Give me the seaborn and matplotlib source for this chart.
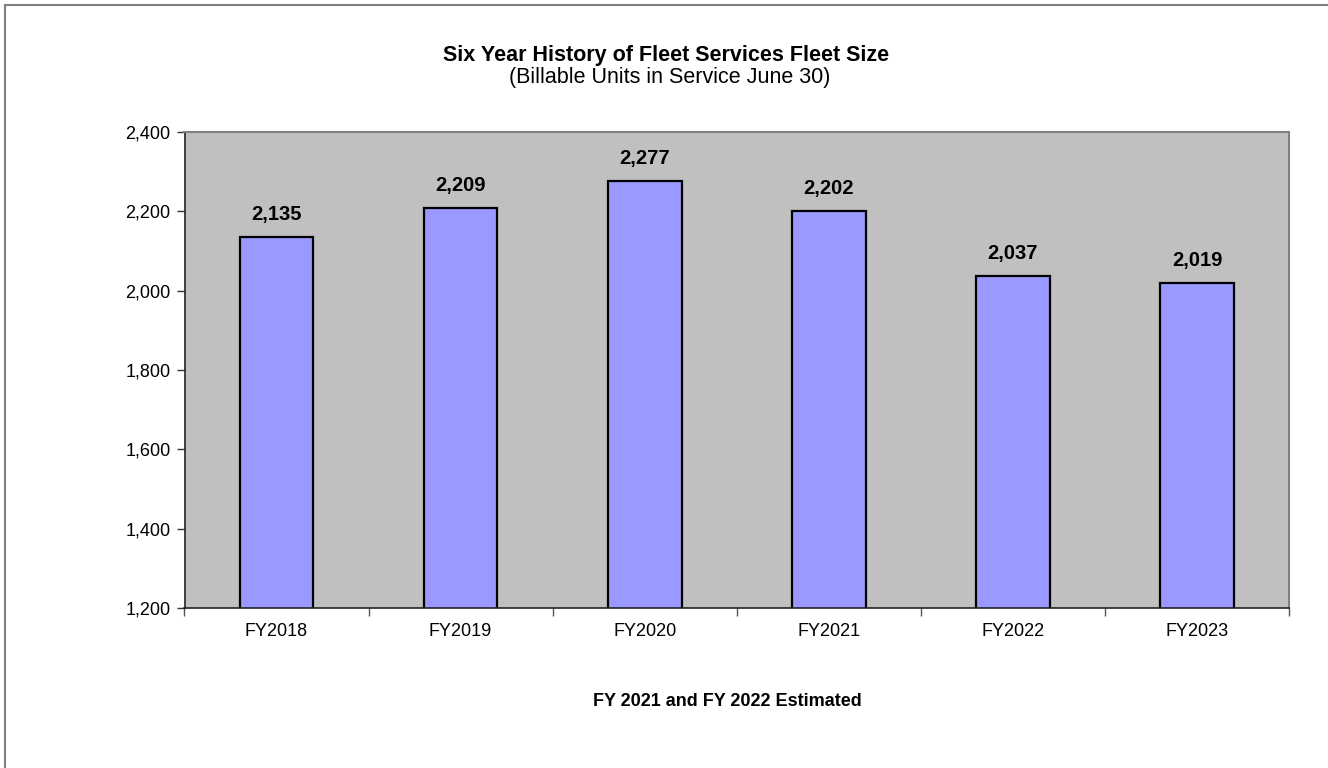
import matplotlib
matplotlib.use("Agg")
import matplotlib.pyplot as plt
from matplotlib.ticker import FuncFormatter, FixedLocator
from matplotlib.lines import Line2D
import seaborn as sns
import pandas as pd

# Fleet size by fiscal year (billable units in service June 30)
years = ["FY2018", "FY2019", "FY2020", "FY2021", "FY2022", "FY2023"]
units = [2135, 2209, 2277, 2202, 2037, 2019]
y_ticks = [1200, 1400, 1600, 1800, 2000, 2200, 2400]

df = pd.DataFrame({"year": years, "units": units})

sns.set_theme(style="white")
plt.rcParams["font.family"] = ["Liberation Sans", "DejaVu Sans"]
plt.rcParams["text.color"] = "black"

W, H = 1328, 768
fig = plt.figure(figsize=(W / 100, H / 100), dpi=100)
fig.patch.set_facecolor("white")
ax = fig.add_axes([184.5 / W, 1 - 608 / H, (1289 - 184.5) / W, (608 - 132) / H])
ax.set_facecolor("#C0C0C0")

sns.barplot(data=df, x="year", y="units", ax=ax, color="#9999FF",
            saturation=1, width=0.40, edgecolor="black", linewidth=1.6)

ax.set_ylim(y_ticks[0], y_ticks[-1])
ax.set_xlim(-0.5, len(years) - 0.5)
ax.yaxis.set_major_locator(FixedLocator(y_ticks))
ax.yaxis.set_major_formatter(FuncFormatter(lambda v, p: f"{int(v):,}"))
ax.set_xlabel("")
ax.set_ylabel("")

# category labels at centres, tick marks between categories
ax.set_xticks(range(len(years)))
ax.set_xticklabels(years)
ax.set_xticks([i - 0.5 for i in range(len(years) + 1)], minor=True)
ax.tick_params(axis="x", which="major", length=0, pad=11, labelsize=13, colors="black")
ax.tick_params(axis="x", which="minor", length=6, width=1, color="#555555", direction="out", bottom=True)
ax.tick_params(axis="y", which="major", length=6, width=1, color="#333333", direction="out",
               left=True, pad=4, labelsize=13, labelcolor="black")

for side in ["top", "right"]:
    ax.spines[side].set_visible(True)
    ax.spines[side].set_color("#808080")
    ax.spines[side].set_linewidth(1.5)
for side in ["left", "bottom"]:
    ax.spines[side].set_visible(True)
    ax.spines[side].set_color("#222222")
    ax.spines[side].set_linewidth(1.2)

# value labels above each bar
for i, v in enumerate(units):
    ax.annotate(f"{v:,}", xy=(i, v), xytext=(0, 16), textcoords="offset points",
                ha="center", va="center", fontsize=14.5, fontweight="bold", color="black")

fig.text(666 / W, 1 - 56 / H, "Six Year History of Fleet Services Fleet Size",
         ha="center", va="center", fontsize=15.5, fontweight="bold", color="black")
fig.text(670 / W, 1 - 77 / H, "(Billable Units in Service June 30)",
         ha="center", va="center", fontsize=15.5, color="black")
fig.text(727 / W, 1 - 702 / H, "FY 2021 and FY 2022 Estimated",
         ha="center", va="center", fontsize=13, fontweight="bold", color="black")

# outer chart frame
fig.add_artist(Line2D([4.5 / W, 4.5 / W], [0, 1 - 4.5 / H], transform=fig.transFigure,
                      color="#808080", linewidth=1.5))
fig.add_artist(Line2D([4.5 / W, 1], [1 - 4.5 / H, 1 - 4.5 / H], transform=fig.transFigure,
                      color="#808080", linewidth=1.5))

fig.savefig("out.png", dpi=100, facecolor="white")
